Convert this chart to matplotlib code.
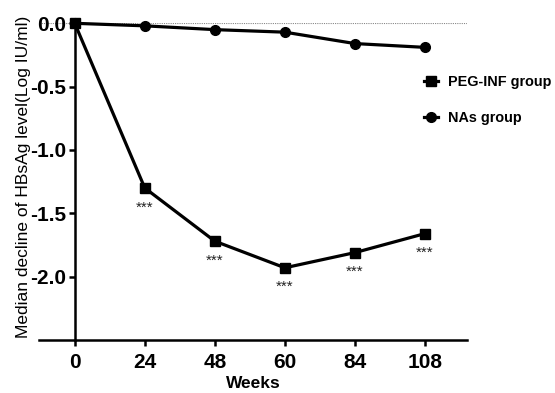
"""
Median decline of HBsAg level over time, PEG-INF vs NAs group.
GraphPad-style line chart with the y axis sitting at week 0.
"""

import matplotlib
matplotlib.use("Agg")

import matplotlib.pyplot as plt

# ───────────────────────── Data ────────────────────────────────────────────
weeks = ["0", "24", "48", "60", "84", "108"]
peg_inf = [0.0, -1.30, -1.72, -1.93, -1.81, -1.66]
nas = [0.0, -0.02, -0.05, -0.07, -0.16, -0.19]
sig_marks = ["", "***", "***", "***", "***", "***"]

y_ticks = [0.0, -0.5, -1.0, -1.5, -2.0]

plt.rcParams["font.family"] = ["Liberation Sans", "DejaVu Sans"]

# ───────────────────────── Figure ──────────────────────────────────────────
fig = plt.figure(figsize=(5.55, 3.93), dpi=100)
ax = fig.add_axes([39 / 555, 1 - 340 / 393, (467 - 39) / 555, (340 - 23.3) / 393])

pos = list(range(len(weeks)))

ax.axhline(0, color="#888", lw=0.8, ls=(0, (1, 1)), zorder=1)

ax.plot(pos, peg_inf, color="black", lw=2.3, marker="s", ms=7.5,
        clip_on=False, zorder=3, label="PEG-INF group")
ax.plot(pos, nas, color="black", lw=2.3, marker="o", ms=7,
        clip_on=False, zorder=3, label="NAs group")

for x, y, s in zip(pos, peg_inf, sig_marks):
    if s:
        ax.annotate(s, (x, y), xytext=(0, -14), textcoords="offset points",
                    ha="center", va="center", fontsize=11, color="#222")

ax.set_xlim(-0.51, 5.6)
ax.set_ylim(-2.5, 0)
ax.set_xticks(pos)
ax.set_xticklabels(weeks)
ax.set_yticks(y_ticks)
ax.set_yticklabels([f"{v:.1f}" for v in y_ticks])

ax.spines["left"].set_position(("data", 0))
ax.spines["top"].set_visible(False)
ax.spines["right"].set_visible(False)
for side in ("left", "bottom"):
    ax.spines[side].set_linewidth(1.8)
ax.tick_params(width=1.8, length=4, labelsize=15)
ax.tick_params(axis="x", pad=5)
ax.tick_params(axis="y", pad=2)
for lab in ax.get_xticklabels() + ax.get_yticklabels():
    lab.set_fontweight("bold")

ax.set_xlabel("Weeks", fontsize=12.5, fontweight="bold", labelpad=3)
fig.text(24 / 555, 1 - 177 / 393, "Median decline of HBsAg level(Log IU/ml)",
         rotation=90, ha="center", va="center", fontsize=12.5)

leg = ax.legend(loc="upper left", bbox_to_anchor=(411 / 555, 1 - 62 / 393),
                bbox_transform=fig.transFigure, frameon=False,
                handlelength=0.95, handletextpad=0.7, labelspacing=1.55,
                prop={"weight": "bold", "size": 10.4})

fig.savefig("out.png", dpi=100)
